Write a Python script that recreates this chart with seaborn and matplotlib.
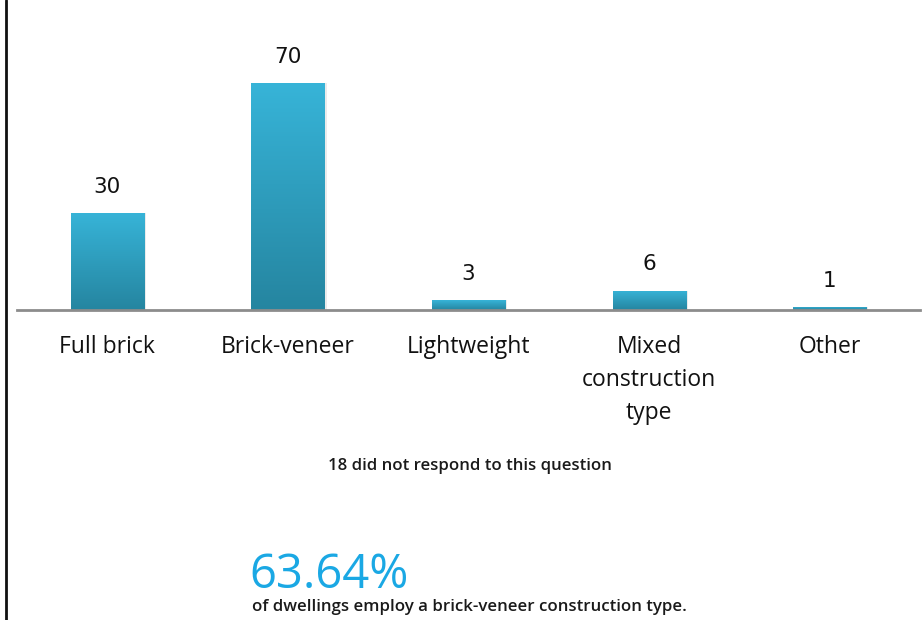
import numpy as np
import pandas as pd
import matplotlib
matplotlib.use("Agg")
import matplotlib.pyplot as plt
from matplotlib.colors import LinearSegmentedColormap
import seaborn as sns

categories = ["Full brick", "Brick-veneer", "Lightweight", "Mixed\nconstruction\ntype", "Other"]
counts = [30, 70, 3, 6, 1]
no_response = 18
headline_pct = "63.64%"

sns.set_theme(style="white")
plt.rcParams["font.family"] = ["Open Sans", "DejaVu Sans"]

W, H = 923, 620
fig = plt.figure(figsize=(W / 100, H / 100), dpi=100)
ax = fig.add_axes([17 / W, 0.5, 903 / W, 0.5])

df = pd.DataFrame({"type": categories, "count": counts})
sns.barplot(data=df, x="type", y="count", ax=ax, color="#33aed3",
            width=0.405, saturation=1, edgecolor="none")

ax.set_xlim(-0.5, 4.5)
ax.set_ylim(0, 95.6)

# vertical gradient fill inside each bar
grad = LinearSegmentedColormap.from_list("bar", ["#2585a0", "#37b4d8"])
gy = np.linspace(0, 1, 256).reshape(-1, 1)
for p in ax.patches:
    x0, y0 = p.get_x(), p.get_y()
    w, h = p.get_width(), p.get_height()
    # faint drop shadow to the right
    ax.add_patch(plt.Rectangle((x0 + 0.012, y0), w, h, color="#000000",
                               alpha=0.08, zorder=1, lw=0))
    im = ax.imshow(gy, cmap=grad, origin="lower", aspect="auto",
                   extent=[x0, x0 + w, y0, y0 + h], zorder=2)
    im.set_clip_path(p)
    p.set_zorder(2)
    ax.annotate(f"{int(round(h))}", (x0 + w / 2, y0 + h), xytext=(0, 14.5),
                textcoords="offset points", ha="center", va="baseline",
                fontsize=15.5, color="#111111", family=["DejaVu Sans"])

for s in ["top", "right", "left"]:
    ax.spines[s].set_visible(False)
ax.spines["bottom"].set_color("#8c8c8c")
ax.spines["bottom"].set_linewidth(2)
ax.set_yticks([])
ax.set_xlabel("")
ax.set_ylabel("")
ax.tick_params(axis="x", length=0, pad=18, labelsize=16.5, labelcolor="#111111")
for t in ax.get_xticklabels():
    t.set_linespacing(1.5)
    t.set_verticalalignment("top")

# left frame line
fig.add_artist(plt.Line2D([6 / W, 6 / W], [0, 1], color="#111111", lw=2))

fig.text(470 / W, 1 - 466 / H, f"{no_response} did not respond to this question",
         ha="center", va="center", fontsize=12.1, color="#1a1a1a", weight="semibold")
fig.text(249 / W, 1 - 588 / H, headline_pct, ha="left", va="baseline",
         fontsize=34, color="#1aa8e4", weight="normal")
fig.text(252 / W, 1 - 611 / H, "of dwellings employ a brick-veneer construction type.",
         ha="left", va="baseline", fontsize=12.2, color="#1a1a1a", weight="semibold")

fig.savefig("out.png", dpi=100)
